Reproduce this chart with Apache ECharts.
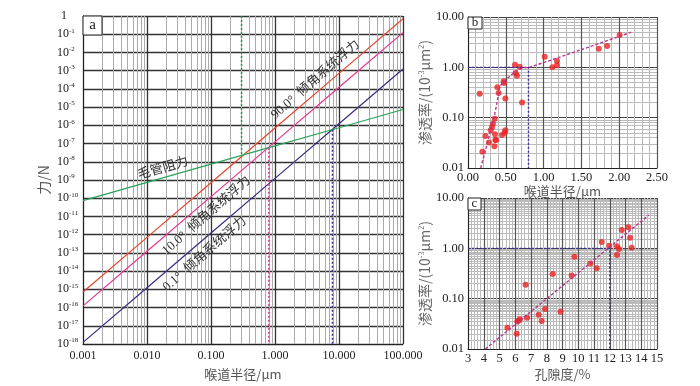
<!DOCTYPE html>
<html>
<head>
<meta charset="utf-8">
<script src="https://cdn.jsdelivr.net/npm/echarts@6/dist/echarts.min.js"></script>
<style>
html, body { margin: 0; padding: 0; background: #fff; }
#main { width: 700px; height: 386px; }
</style>
</head>
<body>
<div id="main"></div>
<script>
// ---- panel a: force vs throat radius (log-log) ----
var radius = [0.001, 0.01, 0.1, 1, 10, 100];
var buoy90 = [7.1e-16, 7.1e-13, 7.1e-10, 7.1e-7, 7.1e-4, 0.71];
var buoy10 = [1.23e-16, 1.23e-13, 1.23e-10, 1.23e-7, 1.23e-4, 0.123];
var buoy01 = [1.23e-18, 1.23e-15, 1.23e-12, 1.23e-9, 1.23e-6, 1.23e-3];
var capillary = [7.4e-11, 7.4e-10, 7.4e-9, 7.4e-8, 7.4e-7, 7.4e-6];
// dotted cut-off verticals [x, yFrom, yTo]
var cutGreen = [0.30, 1, 2.2e-8];
var cutPink = [0.80, 5.8e-8, 1e-18];
var cutBlue = [7.9, 5.7e-7, 1e-18];

// ---- panel b: permeability vs throat radius ----
var throatR = [0.155, 0.19, 0.23, 0.278, 0.30, 0.318, 0.33, 0.353, 0.349, 0.357, 0.362, 0.372,
  0.388, 0.406, 0.45, 0.472, 0.476, 0.486, 0.494, 0.494, 0.622, 0.63, 0.648, 0.684, 0.715,
  1.015, 1.116, 1.177, 1.177, 1.73, 1.84, 2.006];
var permB = [0.30, 0.021, 0.043, 0.032, 0.056, 0.065, 0.076, 0.095, 0.027, 0.047, 0.036, 0.036,
  0.40, 0.31, 0.045, 0.53, 0.49, 0.05, 0.056, 0.24, 1.13, 0.77, 0.68, 1.03, 0.20,
  1.62, 1.0, 1.34, 1.1, 2.35, 2.64, 4.4];
var fitBx = [0.168, 0.23, 0.287, 0.34, 0.384, 0.42, 0.472, 0.55, 0.64, 0.728, 0.816, 1.5, 2.16];
var fitBy = [0.01, 0.022, 0.048, 0.095, 0.20, 0.40, 0.52, 0.66, 0.85, 0.97, 1.01, 2.25, 5.0];
var guideB = [0.8, 1];

// ---- panel c: permeability vs porosity ----
var porosity = [5.50, 6.09, 6.13, 6.22, 6.30, 6.66, 6.75, 7.49, 7.68, 7.89, 8.38, 8.88, 9.58,
  9.75, 10.77, 11.17, 11.49, 11.97, 12.46, 12.46, 12.59, 12.76, 13.18, 13.29, 13.39];
var permC = [0.0265, 0.020, 0.035, 0.037, 0.039, 0.19, 0.042, 0.048, 0.036, 0.062, 0.31, 0.055, 0.29,
  0.68, 0.50, 0.40, 1.34, 1.13, 1.10, 0.74, 0.97, 2.31, 2.61, 1.62, 1.03];
var fitCx = [4.10, 14.49];
var fitCy = [0.01, 4.6];
var guideC = [12, 1];

function pairs(xs, ys) {
  return xs.map(function (x, i) { return [x, ys[i]]; });
}

var serif = "'Liberation Serif', 'Noto Sans CJK SC', serif";
var cjk = "'Noto Sans CJK SC', 'Liberation Serif', sans-serif";
var darkGrid = { show: true, lineStyle: { color: '#333', width: 1.3 } };
var blueDot = '#3b2e9c';

var myChart = echarts.init(document.getElementById('main'));

option = {
  backgroundColor: '#fff',
  animation: false,
  grid: [
    { left: 83, top: 16, width: 320, height: 333 },
    { left: 468, top: 17, width: 189, height: 151 },
    { left: 468, top: 198, width: 189, height: 151 }
  ],
  xAxis: [
    {
      gridIndex: 0, type: 'log', logBase: 10, min: 0.001, max: 100, splitNumber: 5,
      name: '喉道半径/μm', nameLocation: 'middle', nameGap: 24,
      nameTextStyle: { fontFamily: cjk, fontSize: 13, color: '#555' },
      axisLine: { lineStyle: { color: '#222' } },
      axisTick: { show: false },
      axisLabel: {
        fontFamily: serif, fontSize: 12, color: '#222', margin: 6,
        formatter: function (v) { return (+v).toFixed(3); }
      },
      splitLine: darkGrid,
      minorTick: { show: false, splitNumber: 9 },
      minorSplitLine: { show: true, lineStyle: { color: '#aaa', width: 1 } }
    },
    {
      gridIndex: 1, type: 'value', min: 0, max: 2.5, interval: 0.5,
      name: '喉道半径/μm', nameLocation: 'middle', nameGap: 16,
      nameTextStyle: { fontFamily: cjk, fontSize: 13, color: '#555' },
      axisLine: { lineStyle: { color: '#222' } },
      axisTick: { show: false },
      axisLabel: {
        fontFamily: serif, fontSize: 12.5, color: '#222', margin: 3,
        formatter: function (v) { return v.toFixed(2); }
      },
      splitLine: { show: true, lineStyle: { color: '#555', width: 1.2 } },
      minorTick: { show: false, splitNumber: 5 },
      minorSplitLine: { show: true, lineStyle: { color: '#bbb', width: 1 } }
    },
    {
      gridIndex: 2, type: 'value', min: 3, max: 15, interval: 1,
      name: '孔隙度/%', nameLocation: 'middle', nameGap: 19,
      nameTextStyle: { fontFamily: cjk, fontSize: 13, color: '#555' },
      axisLine: { lineStyle: { color: '#222' } },
      axisTick: { show: false },
      axisLabel: { fontFamily: serif, fontSize: 12.5, color: '#222', margin: 3 },
      splitLine: { show: true, lineStyle: { color: '#555', width: 1.2 } },
      minorTick: { show: false, splitNumber: 5 },
      minorSplitLine: { show: true, lineStyle: { color: '#bbb', width: 1 } }
    }
  ],
  yAxis: [
    {
      gridIndex: 0, type: 'log', logBase: 10, min: 1e-18, max: 1, interval: 1,
      name: '力/N', nameLocation: 'middle', nameGap: 32,
      nameTextStyle: { fontFamily: cjk, fontSize: 14, color: '#555' },
      axisLine: { lineStyle: { color: '#222' } },
      axisTick: { show: false },
      axisLabel: {
        align: 'left', margin: 26, color: '#222',
        formatter: function (v) {
          var e = Math.round(Math.log10(v));
          return e === 0 ? '{one|1}' : '{b|10}{s|' + e + '}';
        },
        rich: {
          one: { fontFamily: serif, fontSize: 12, padding: [0, 0, 0, 4], lineHeight: 14 },
          b: { fontFamily: serif, fontSize: 12, lineHeight: 14 },
          s: { fontFamily: serif, fontSize: 7, verticalAlign: 'top', lineHeight: 9 }
        }
      },
      splitLine: darkGrid
    },
    {
      gridIndex: 1, type: 'log', logBase: 10, min: 0.01, max: 10, interval: 1,
      name: '渗透率/(10{s|-3}μm{s|2})', nameLocation: 'middle', nameGap: 30,
      nameTextStyle: {
        fontFamily: cjk, fontSize: 14, color: '#666',
        rich: { s: { fontFamily: serif, fontSize: 8, verticalAlign: 'top', color: '#666' } }
      },
      axisLine: { lineStyle: { color: '#222' } },
      axisTick: { show: false },
      axisLabel: {
        fontFamily: serif, fontSize: 12.5, color: '#222', margin: 4,
        formatter: function (v) { return (+v).toFixed(2); }
      },
      splitLine: { show: true, lineStyle: { color: '#444', width: 1.2 } },
      minorTick: { show: false, splitNumber: 9 },
      minorSplitLine: { show: true, lineStyle: { color: '#bbb', width: 1 } }
    },
    {
      gridIndex: 2, type: 'log', logBase: 10, min: 0.01, max: 10, interval: 1,
      name: '渗透率/(10{s|-3}μm{s|2})', nameLocation: 'middle', nameGap: 30,
      nameTextStyle: {
        fontFamily: cjk, fontSize: 14, color: '#666',
        rich: { s: { fontFamily: serif, fontSize: 8, verticalAlign: 'top', color: '#666' } }
      },
      axisLine: { lineStyle: { color: '#222' } },
      axisTick: { show: false },
      axisLabel: {
        fontFamily: serif, fontSize: 12.5, color: '#222', margin: 4,
        formatter: function (v) { return (+v).toFixed(2); }
      },
      splitLine: { show: true, lineStyle: { color: '#444', width: 1.2 } },
      minorTick: { show: false, splitNumber: 18 },
      minorSplitLine: { show: true, lineStyle: { color: '#bbb', width: 1 } }
    }
  ],
  series: [
    { name: '90', type: 'line', xAxisIndex: 0, yAxisIndex: 0, showSymbol: false,
      data: pairs(radius, buoy90), lineStyle: { color: '#e8432c', width: 1.2 } },
    { name: '10', type: 'line', xAxisIndex: 0, yAxisIndex: 0, showSymbol: false,
      data: pairs(radius, buoy10), lineStyle: { color: '#e8338c', width: 1.2 } },
    { name: '0.1', type: 'line', xAxisIndex: 0, yAxisIndex: 0, showSymbol: false,
      data: pairs(radius, buoy01), lineStyle: { color: '#3a2a80', width: 1.2 } },
    { name: 'cap', type: 'line', xAxisIndex: 0, yAxisIndex: 0, showSymbol: false,
      data: pairs(radius, capillary), lineStyle: { color: '#2aa35a', width: 1.2 } },
    { type: 'line', xAxisIndex: 0, yAxisIndex: 0, showSymbol: false,
      data: [[cutGreen[0], cutGreen[1]], [cutGreen[0], cutGreen[2]]],
      lineStyle: { color: '#1f9a4a', width: 1.5, type: [2, 2] } },
    { type: 'line', xAxisIndex: 0, yAxisIndex: 0, showSymbol: false,
      data: [[cutPink[0], cutPink[1]], [cutPink[0], cutPink[2]]],
      lineStyle: { color: '#e8338c', width: 1.5, type: [2, 2] } },
    { type: 'line', xAxisIndex: 0, yAxisIndex: 0, showSymbol: false,
      data: [[cutBlue[0], cutBlue[1]], [cutBlue[0], cutBlue[2]]],
      lineStyle: { color: blueDot, width: 1.5, type: [2, 2] } },

    { type: 'line', xAxisIndex: 1, yAxisIndex: 1, showSymbol: false,
      data: [[0, guideB[1]], [guideB[0], guideB[1]], [guideB[0], 0.01]],
      lineStyle: { color: blueDot, width: 1.4, type: [2, 2] } },
    { type: 'line', xAxisIndex: 1, yAxisIndex: 1, showSymbol: false, smooth: 0.3,
      data: pairs(fitBx, fitBy), lineStyle: { color: '#b5358f', width: 1.4, type: [3, 2] } },
    { type: 'scatter', xAxisIndex: 1, yAxisIndex: 1, symbol: 'circle', symbolSize: 6,
      data: pairs(throatR, permB), itemStyle: { color: '#ea2323' } },

    { type: 'line', xAxisIndex: 2, yAxisIndex: 2, showSymbol: false,
      data: [[3, guideC[1]], [guideC[0], guideC[1]], [guideC[0], 0.01]],
      lineStyle: { color: blueDot, width: 1.4, type: [2, 2] } },
    { type: 'line', xAxisIndex: 2, yAxisIndex: 2, showSymbol: false,
      data: pairs(fitCx, fitCy), lineStyle: { color: '#b5358f', width: 1.4, type: [3, 2] } },
    { type: 'scatter', xAxisIndex: 2, yAxisIndex: 2, symbol: 'circle', symbolSize: 6,
      data: pairs(porosity, permC), itemStyle: { color: '#ea2323' } }
  ]
};

myChart.setOption(option);

// line annotations placed in data coordinates of panel a
var notes = [
  { text: '90.0°  倾角系统浮力', at: [4.3, 3.2e-4], rot: 41 },
  { text: '10.0°  倾角系统浮力', at: [0.085, 1.1e-11], rot: 41 },
  { text: '0.1°  倾角系统浮力', at: [0.08, 8.5e-14], rot: 41 },
  { text: '毛管阻力', at: [0.0178, 4.2e-9], rot: 16 }
];

var graphics = notes.map(function (n) {
  var p = myChart.convertToPixel({ gridIndex: 0 }, n.at);
  return {
    type: 'text', x: p[0], y: p[1], rotation: n.rot * Math.PI / 180, z: 100,
    style: {
      text: n.text, fill: '#333', fontSize: 13, fontFamily: serif,
      textAlign: 'center', textVerticalAlign: 'middle'
    }
  };
});

function tag(letter, x, y, w, h, fs) {
  return [
    { type: 'rect', z: 100, shape: { x: x, y: y, width: w, height: h },
      style: { fill: '#fff', stroke: '#222', lineWidth: 1 } },
    { type: 'text', z: 101, x: x + w / 2, y: y + h / 2,
      style: { text: letter, fontSize: fs, fontFamily: serif, fill: '#222',
        textAlign: 'center', textVerticalAlign: 'middle' } }
  ];
}

graphics = graphics.concat(tag('a', 83, 16, 19, 19, 15), tag('b', 468, 17, 14, 12, 13), tag('c', 468, 198, 13, 12, 13));

myChart.setOption({ graphic: graphics });
</script>
</body>
</html>
